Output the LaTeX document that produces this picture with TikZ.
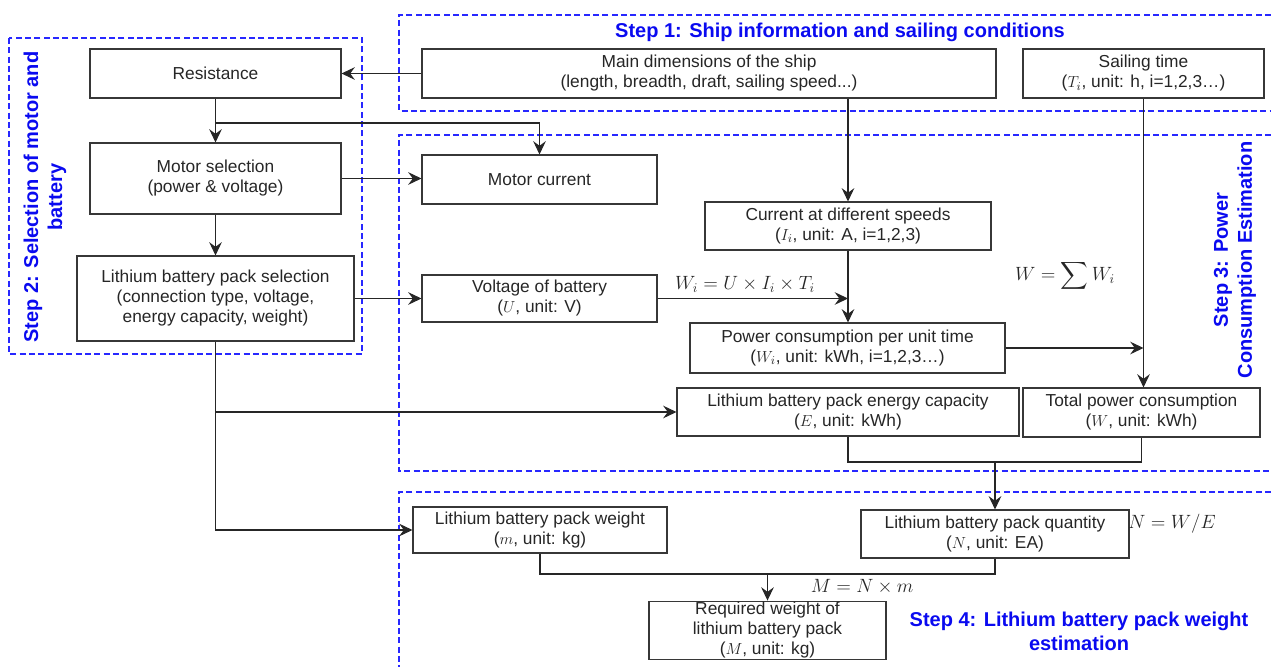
\documentclass[tikz,border=0pt]{standalone}
\usepackage{amsmath}
\usepackage{fontspec}
\setmainfont{Liberation Sans}
\usepackage{graphicx}
\usetikzlibrary{arrows.meta}
\definecolor{stepblue}{RGB}{10,10,240}
\definecolor{framelue}{RGB}{40,40,255}
\definecolor{boxline}{RGB}{55,55,55}
\begin{document}
\begin{tikzpicture}[x=0.75pt,y=-0.75pt,
  box/.style={draw=boxline, line width=0.8pt, align=center, inner sep=1pt, text=black!85, font=\fontsize{13}{15}\selectfont},
  conn/.style={draw=black!85, line width=0.8pt},
  arr/.style={conn, -{Stealth[length=10pt,width=9.5pt,inset=3.5pt]}},
  stepframe/.style={draw=framelue, line width=0.9pt, dash pattern=on 4.5pt off 2.5pt},
  steptitle/.style={text=stepblue, font=\bfseries\fontsize{15}{18}\selectfont, align=center, inner sep=0pt},
  formula/.style={text=black!85, font=\fontsize{14.4}{17}\selectfont, inner sep=0pt}]
\useasboundingbox (0,0) rectangle (1271,667);

% step frames
\draw[stepframe] (1271,15) -- (399,15) -- (399,111) -- (1271,111);
\draw[stepframe] (9,38) rectangle (362,354);
\draw[stepframe] (1271,135) -- (399,135) -- (399,471) -- (1271,471);
\draw[stepframe] (1271,492) -- (399,492) -- (399,667);

% step titles
\node[steptitle] (s1) at (840,32) {Step 1: Ship information and sailing conditions};
\node[steptitle, rotate=90] (s2) at (45,197) {Step 2: Selection of motor and\\battery};
\node[steptitle, rotate=90] (s3) at (1235,260) {Step 3: Power\\Consumption Estimation};
\node[steptitle] (s4) at (1079,631) {Step 4: Lithium battery pack weight\\estimation};

% boxes
\node[box, minimum width=188.25pt, minimum height=36.75pt] (res) at (215.5,73.5) {Resistance};
\node[box, minimum width=430.5pt, minimum height=36.75pt] (maindim) at (709,73.5) {Main dimensions of the ship\\(length, breadth, draft, sailing speed...)};
\node[box, minimum width=180.75pt, minimum height=36.75pt] (sail) at (1143.5,73.5) {Sailing time\\($T_i$, unit: h, i=1,2,3…)};
\node[box, minimum width=188.25pt, minimum height=53.25pt] (motorsel) at (215.5,178.5) {Motor selection\\(power \& voltage)};
\node[box, minimum width=176.25pt, minimum height=36.75pt] (motorcur) at (539.5,179.5) {Motor current};
\node[box, minimum width=214.5pt, minimum height=36pt] (cur) at (848,226) {Current at different speeds\\($I_i$, unit: A, i=1,2,3)};
\node[box, minimum width=207.75pt, minimum height=63.75pt] (lisel) at (215.5,298.5) {Lithium battery pack selection\\(connection type, voltage,\\energy capacity, weight)};
\node[box, minimum width=176.25pt, minimum height=35.25pt] (volt) at (539.5,298.5) {Voltage of battery\\($U$, unit: V)};
\node[box, minimum width=236.25pt, minimum height=37.5pt] (pc) at (847.5,348) {Power consumption per unit time\\($W_i$, unit: kWh, i=1,2,3…)};
\node[box, minimum width=256.5pt, minimum height=36pt] (ec) at (848,412) {Lithium battery pack energy capacity\\($E$, unit: kWh)};
\node[box, minimum width=177.75pt, minimum height=36.75pt] (tp) at (1141.5,412.5) {Total power consumption\\($W$, unit: kWh)};
\node[box, minimum width=190.5pt, minimum height=34.5pt] (liw) at (540,530) {Lithium battery pack weight\\($m$, unit: kg)};
\node[box, minimum width=201pt, minimum height=36pt] (qty) at (995,534) {Lithium battery pack quantity\\($N$, unit: EA)};
\node[box, minimum width=177.75pt, minimum height=42.75pt] (req) at (767.5,630.5) {Required weight of\\lithium battery pack\\($M$, unit: kg)};

% formulas
\node[formula] (f1) at (745,284) {$W_i = U\times I_i\times T_i$};
\node[formula] (f2) at (1065,276) {$\displaystyle W = \sum W_i$};
\node[formula] (f3) at (1172,524) {$N = W/E$};
\node[formula] (f4) at (862,587) {$M = N\times m$};

% connectors
\draw[arr] (maindim.west) -- (res.east);
\draw[arr] (res.south) -- (motorsel.north);
\coordinate (b1) at (215.5,123);
\draw[arr] (b1) -| (motorcur.north);
\draw[arr] (motorsel.east) -- (motorsel.east -| motorcur.west);
\draw[arr] (motorsel.south) -- (lisel.north);
\draw[arr] (lisel.east) -- (volt.west);
\draw[arr] (maindim.south -| cur.north) -- (cur.north);
\draw[arr] (cur.south) -- (cur.south |- pc.north);
\coordinate (j1) at (cur.south |- volt.east);
\draw[arr] (volt.east) -- (j1);
\draw[arr] (sail.south) -- (sail.south |- tp.north);
\coordinate (j2) at (sail.south |- pc.east);
\draw[arr] (pc.east) -- (j2);
\draw[arr] (lisel.south) |- (liw.west);
\coordinate (j3) at (lisel.south |- ec.west);
\draw[arr] (j3) -- (ec.west);
\coordinate (m1) at (995,462);
\draw[conn] (ec.south) |- (m1) -| (tp.south);
\draw[arr] (m1) -- (qty.north);
\coordinate (m2) at (767.5,574);
\draw[conn] (liw.south) |- (m2) -| (qty.south);
\draw[arr] (m2) -- (req.north);
\end{tikzpicture}
\end{document}
